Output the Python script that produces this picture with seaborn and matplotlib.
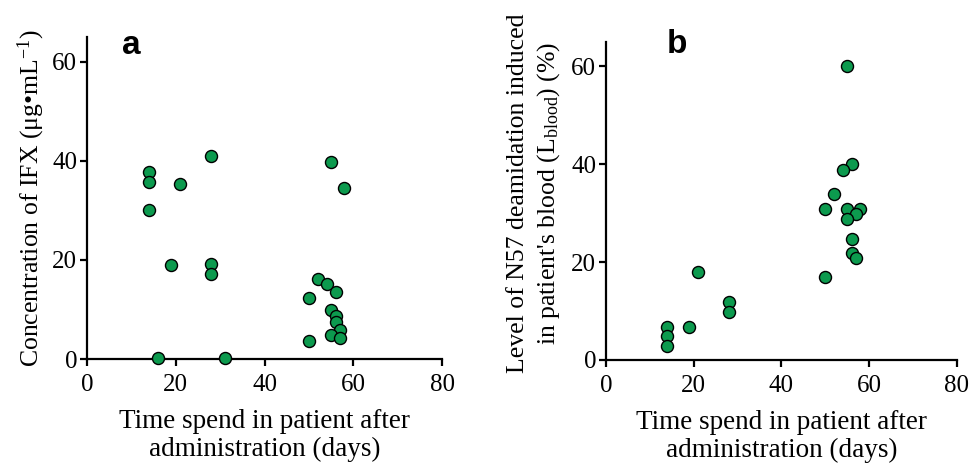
"""
Scatter plots of IFX concentration and N57 deamidation vs. time in patient.
"""

import matplotlib
matplotlib.use("Agg")
import matplotlib.pyplot as plt
import seaborn as sns
import pandas as pd

# Panel a: IFX concentration (ug/mL) vs days
days_a = [14, 14, 14, 21, 28, 19, 28, 28, 16, 31,
          55, 58, 52, 54, 56, 50, 55, 56, 56, 57, 55, 57, 50]
ifx_conc = [37.8, 35.8, 30.0, 35.3, 40.9, 19.0, 19.2, 17.1, 0.2, 0.3,
            39.7, 34.6, 16.1, 15.1, 13.6, 12.3, 9.9, 8.7, 7.5, 5.9, 4.9, 4.2, 3.6]

# Panel b: N57 deamidation level (%) vs days
days_b = [55, 56, 54, 52, 50, 55, 58, 57, 55, 56,
          56, 57, 50, 21, 28, 28, 14, 19, 14, 14]
deamidation = [60.0, 40.0, 38.9, 34.0, 30.9, 30.9, 30.9, 29.9, 28.8, 24.7,
               21.8, 20.9, 17.0, 17.9, 11.9, 9.8, 6.8, 6.8, 4.8, 2.8]

x_ticks = [0, 20, 40, 60, 80]
y_ticks = [0, 20, 40, 60]
marker_color = "#0C9A4E"

sns.set_theme(style="ticks")
plt.rcParams["font.family"] = ["Liberation Serif", "DejaVu Serif"]
plt.rcParams["mathtext.fontset"] = "custom"
plt.rcParams["mathtext.rm"] = "Liberation Serif"
plt.rcParams["mathtext.it"] = "Liberation Serif:italic"
plt.rcParams["text.color"] = "black"
plt.rcParams["axes.labelcolor"] = "black"
plt.rcParams["axes.linewidth"] = 1.6
plt.rcParams["xtick.major.width"] = 1.6
plt.rcParams["ytick.major.width"] = 1.6
plt.rcParams["xtick.major.size"] = 5
plt.rcParams["ytick.major.size"] = 5
plt.rcParams["xtick.major.pad"] = 6
plt.rcParams["ytick.major.pad"] = 2
plt.rcParams["xtick.color"] = "black"
plt.rcParams["ytick.color"] = "black"
plt.rcParams["xtick.labelcolor"] = "black"
plt.rcParams["ytick.labelcolor"] = "black"
plt.rcParams["axes.edgecolor"] = "black"

fig = plt.figure(figsize=(9.69, 4.66), dpi=100)
ax1 = fig.add_axes([0.0898, 0.2296, 0.3664, 0.691])
ax2 = fig.add_axes([0.6254, 0.2275, 0.3622, 0.683])

df_a = pd.DataFrame({"days": days_a, "value": ifx_conc})
df_b = pd.DataFrame({"days": days_b, "value": deamidation})

for ax, df in [(ax1, df_a), (ax2, df_b)]:
    sns.scatterplot(data=df, x="days", y="value", ax=ax, s=75,
                    color=marker_color, edgecolor="black", linewidth=1.0,
                    zorder=3, clip_on=False)
    ax.set_xlim(0, 80)
    ax.set_ylim(0, 65)
    ax.set_xticks(x_ticks)
    ax.set_yticks(y_ticks)
    ax.tick_params(labelsize=18)
    ax.set_xlabel("Time spend in patient after\nadministration (days)",
                  fontsize=19.5, labelpad=9, linespacing=1.15)
    sns.despine(ax=ax)

ax1.set_ylabel(r"Concentration of IFX (μg•mL$^{-1}$)", fontsize=18.5, labelpad=4)
ax2.set_ylabel("Level of N57 deamidation induced\n"
               r"in patient's blood (L$_{\mathrm{blood}}$) (%)",
               fontsize=18.5, labelpad=6, linespacing=1.3)
ax2.yaxis.set_label_coords(-0.125, 0.525)

ax1.text(0.125, 0.975, "a", transform=ax1.transAxes, fontsize=24,
         fontweight="bold", family="Liberation Sans", va="center", ha="center")
ax2.text(0.203, 0.99, "b", transform=ax2.transAxes, fontsize=24,
         fontweight="bold", family="Liberation Sans", va="center", ha="center")

plt.savefig("out.png", dpi=100)
plt.close()
